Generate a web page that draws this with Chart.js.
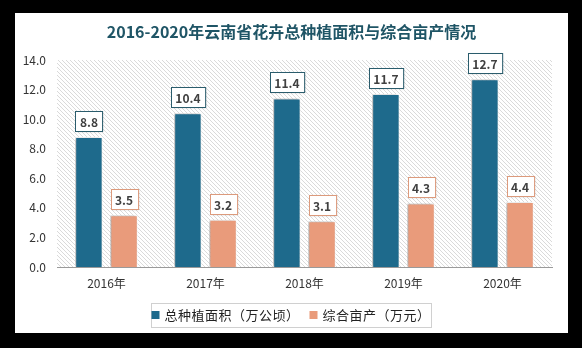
<!DOCTYPE html>
<html>
<head>
<meta charset="utf-8">
<script src="https://cdn.jsdelivr.net/npm/chart.js@4"></script>
<style>
  html, body { margin: 0; padding: 0; background: #000; }
  #panel { position: absolute; left: 15px; top: 13px; width: 553px; height: 320px; background: #fff; }
</style>
</head>
<body>
<div id="panel"><canvas id="barChart" width="553" height="320"></canvas></div>
<script>
// data
var years = ["2016年", "2017年", "2018年", "2019年", "2020年"];
var areaLabel = "总种植面积（万公顷）";
var areaValues = [8.8, 10.4, 11.4, 11.7, 12.7];
var yieldLabel = "综合亩产（万元）";
var yieldValues = [3.5, 3.2, 3.1, 4.3, 4.4];
var titleText = "2016-2020年云南省花卉总种植面积与综合亩产情况";

var blue = '#1e6a8c';
var orange = '#e99b7b';
var labelBorders = ['#2a5c6c', '#dc9a7c'];
var cjk = '"Noto Sans CJK SC", sans-serif';

// hatch pattern for the plot background
function makeHatch() {
  var c = document.createElement('canvas');
  c.width = 4; c.height = 4;
  var x = c.getContext('2d');
  x.strokeStyle = '#dadada';
  x.lineWidth = 1;
  x.beginPath();
  x.moveTo(-1, -1); x.lineTo(5, 5);
  x.moveTo(3, -1); x.lineTo(5, 1);
  x.moveTo(-1, 3); x.lineTo(1, 5);
  x.stroke();
  return x.createPattern(c, 'repeat');
}

var panelPlugin = {
  id: 'panel',
  beforeDraw: function (chart) {
    var ctx = chart.ctx, a = chart.chartArea;
    ctx.save();
    ctx.fillStyle = makeHatch();
    ctx.fillRect(a.left, a.top, a.right - a.left, a.bottom - a.top);
    // title
    ctx.fillStyle = '#1f5566';
    ctx.font = 'bold 16px ' + cjk;
    ctx.textAlign = 'center';
    ctx.textBaseline = 'middle';
    ctx.fillText(titleText, chart.width / 2, 19);
    ctx.restore();
  },
  beforeDatasetsDraw: function (chart) {
    var ctx = chart.ctx;
    ctx.save();
    ctx.shadowColor = 'rgba(0,0,0,0.3)';
    ctx.shadowBlur = 3;
    ctx.shadowOffsetX = -2;
    ctx.shadowOffsetY = 0;
  },
  afterDatasetsDraw: function (chart) {
    var ctx = chart.ctx;
    ctx.restore();
    ctx.save();
    ctx.font = 'bold 12px ' + cjk;
    ctx.textAlign = 'center';
    ctx.textBaseline = 'middle';
    chart.data.datasets.forEach(function (ds, di) {
      chart.getDatasetMeta(di).data.forEach(function (bar, i) {
        var txt = ds.data[i].toFixed(1);
        var w = ctx.measureText(txt).width + 9;
        var h = 20;
        var bx = Math.round(bar.x - w / 2) + 0.5;
        var by = Math.round(bar.y - 6 - h) + 0.5;
        ctx.shadowColor = 'rgba(0,0,0,0.15)';
        ctx.shadowBlur = 2;
        ctx.fillStyle = '#fff';
        ctx.fillRect(bx, by, w, h);
        ctx.shadowColor = 'transparent';
        ctx.strokeStyle = labelBorders[di];
        ctx.lineWidth = 1;
        ctx.strokeRect(bx, by, w, h);
        ctx.fillStyle = '#404040';
        ctx.fillText(txt, bar.x, by + h / 2 + 0.5);
      });
    });
    ctx.restore();
  },
  afterDraw: function (chart) {
    // legend with frame
    var ctx = chart.ctx;
    ctx.save();
    ctx.font = '13px ' + cjk;
    ctx.letterSpacing = '0.5px';
    ctx.textBaseline = 'middle';
    var items = chart.data.datasets;
    var total = 0;
    items.forEach(function (ds, i) {
      total += 13 + ctx.measureText(ds.label).width + (i ? 10 : 0);
    });
    var cy = 302;
    ctx.strokeStyle = '#d0d0d0';
    ctx.lineWidth = 1;
    ctx.strokeRect(136.5, 290.5, 280, 24);
    var x = 276 - total / 2;
    items.forEach(function (ds, i) {
      if (i) x += 10;
      ctx.fillStyle = ds.backgroundColor;
      ctx.fillRect(x, cy - 4, 8, 8);
      x += 13;
      ctx.fillStyle = '#222';
      ctx.fillText(ds.label, x, cy);
      x += ctx.measureText(ds.label).width;
    });
    ctx.restore();
  }
};

var ctx = document.getElementById('barChart').getContext('2d');
var chart = new Chart(ctx, {
  type: 'bar',
  data: {
    labels: years,
    datasets: [{
      label: areaLabel,
      data: areaValues,
      backgroundColor: blue,
      borderColor: '#ffffff',
      borderWidth: 1,
      categoryPercentage: 0.71,
      barPercentage: 0.78
    },
    {
      label: yieldLabel,
      data: yieldValues,
      backgroundColor: orange,
      borderColor: '#ffffff',
      borderWidth: 1,
      categoryPercentage: 0.71,
      barPercentage: 0.78
    }]
  },
  options: {
    responsive: false,
    animation: false,
    layout: { padding: { left: 0, top: 47, right: 16, bottom: 0 } },
    plugins: {
      legend: { display: false },
      title: { display: false },
      tooltip: { enabled: false }
    },
    scales: {
      x: {
        grid: { display: false },
        border: { display: true, color: '#9a9a9a', width: 1 },
        ticks: { color: '#333', font: { family: cjk, size: 12 }, padding: 1 },
        afterFit: function (s) { s.height = 66; }
      },
      y: {
        min: 0,
        max: 14,
        grid: { display: false },
        border: { display: false },
        ticks: {
          stepSize: 2,
          color: '#333',
          padding: 3,
          font: { family: cjk, size: 12 },
          callback: function (v) { return v.toFixed(1); }
        },
        afterFit: function (s) { s.width = 42; }
      }
    }
  },
  plugins: [panelPlugin]
});
</script>
</body>
</html>
